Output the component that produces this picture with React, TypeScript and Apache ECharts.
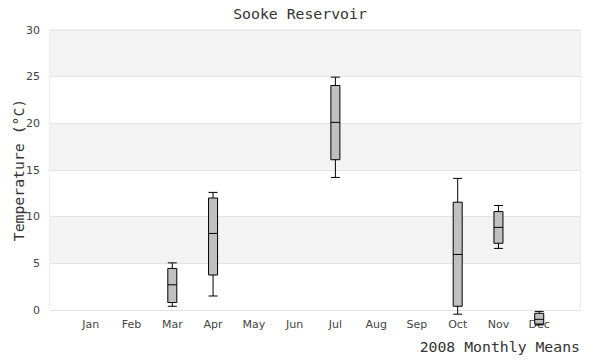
import React, { useEffect, useRef } from "react";
import * as echarts from "echarts";

const months = ["Jan", "Feb", "Mar", "Apr", "May", "Jun", "Jul", "Aug", "Sep", "Oct", "Nov", "Dec"];
const statMonths = ["Mar", "Apr", "Jul", "Oct", "Nov", "Dec"];
const mins = [0.4, 1.5, 14.2, -0.45, 6.6, -1.6];
const q1s = [0.8, 3.75, 16.1, 0.4, 7.15, -1.5];
const medians = [2.7, 8.2, 20.1, 5.95, 8.85, -1.0];
const q3s = [4.45, 12.0, 24.05, 11.55, 10.55, -0.35];
const maxs = [5.05, 12.6, 24.95, 14.1, 11.2, -0.15];
const yTicks = [0, 5, 10, 15, 20, 25, 30];

const mono = "'DejaVu Sans Mono', monospace";
const sans = "'DejaVu Sans', sans-serif";

export default function App() {
  const ref = useRef<HTMLDivElement>(null);
  useEffect(() => {
    if (!ref.current) return;
    const chart = echarts.init(ref.current, null, { renderer: "svg" });
    const categories = [" ", ...months, "  "];
    const data = statMonths.map((m, i) => [m, mins[i], q1s[i], medians[i], q3s[i], maxs[i]]);
    chart.setOption({
      animation: false,
      title: {
        text: "Sooke Reservoir",
        left: "center",
        top: 1,
        textStyle: { fontFamily: mono, fontSize: 14.8, fontWeight: "normal", color: "#333" },
      },
      grid: {
        left: 50,
        right: 20,
        top: 30,
        bottom: 50,
        show: true,
        borderColor: "#dcdcdc",
        borderWidth: 1,
        backgroundColor: "transparent",
        containLabel: false,
        outerBoundsMode: "none",
      },
      xAxis: {
        type: "category",
        data: categories,
        boundaryGap: false,
        axisLine: { show: false },
        axisTick: { show: false },
        splitLine: { show: false },
        axisLabel: { color: "#444", fontSize: 11, fontFamily: sans, margin: 9, interval: 0 },
        name: "2008 Monthly Means",
        nameLocation: "end",
        nameGap: 0,
        nameMoveOverlap: false,
        nameTextStyle: {
          fontFamily: mono,
          fontSize: 14.8,
          color: "#333",
          align: "right",
          verticalAlign: "top",
          padding: [29, 0, 0, 0],
        },
      },
      yAxis: {
        type: "value",
        min: yTicks[0],
        max: yTicks[yTicks.length - 1],
        interval: yTicks[1] - yTicks[0],
        axisLine: { show: false },
        axisTick: { show: false },
        axisLabel: { color: "#444", fontSize: 11, fontFamily: sans, margin: 10 },
        splitLine: { show: true, lineStyle: { color: "#e3e3e3" } },
        splitArea: { show: true, areaStyle: { color: ["#ffffff", "#f3f3f3"] } },
        name: "Temperature (°C)",
        nameLocation: "middle",
        nameGap: 24,
        nameMoveOverlap: false,
        nameTextStyle: { fontFamily: mono, fontSize: 14.8, color: "#333" },
      },
      series: [
        {
          type: "boxplot",
          data,
          encode: { x: 0, y: [1, 2, 3, 4, 5] },
          boxWidth: [9, 9],
          itemStyle: { color: "#c0c0c0", borderColor: "#000", borderWidth: 1 },
          emphasis: { disabled: true },
        },
      ],
    });
    return () => chart.dispose();
  }, []);
  return <div ref={ref} style={{ position: "absolute", left: 0, top: 0, width: 600, height: 360 }} />;
}
